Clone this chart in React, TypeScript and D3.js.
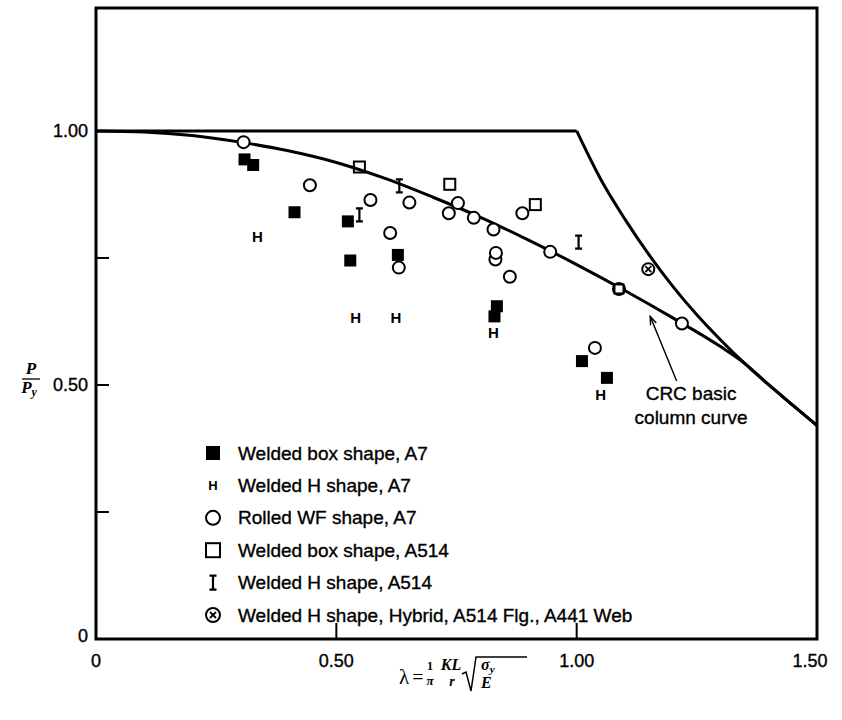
import * as d3 from "d3";

// test points, [lambda, P/Py]
const weldedBoxA7 = [
  [0.309, 0.944], [0.327, 0.933], [0.413, 0.84], [0.524, 0.822], [0.529, 0.745],
  [0.628, 0.756], [0.834, 0.655], [0.829, 0.635], [1.011, 0.547], [1.063, 0.514],
];
const weldedHA7 = [[0.336, 0.792], [0.54, 0.632], [0.624, 0.632], [0.827, 0.603], [1.05, 0.481]];
const rolledWFA7 = [
  [0.307, 0.978], [0.445, 0.893], [0.571, 0.864], [0.612, 0.799], [0.63, 0.731],
  [0.652, 0.859], [0.734, 0.838], [0.753, 0.858], [0.786, 0.829], [0.827, 0.806],
  [0.831, 0.747], [0.832, 0.76], [0.861, 0.713], [0.887, 0.838], [0.945, 0.762],
  [1.038, 0.573], [1.088, 0.689], [1.219, 0.621],
];
const weldedBoxA514 = [[0.548, 0.929], [0.736, 0.895], [0.914, 0.855], [1.088, 0.689]];
const weldedHA514 = [[0.548, 0.835], [0.631, 0.892], [1.004, 0.781]];
const hybrid = [[1.149, 0.728]];

// curves
const crcLambda = [0, 0.1, 0.2, 0.3, 0.4, 0.5, 0.6, 0.7, 0.8, 0.9, 1.0, 1.1, 1.2, 1.3, 1.35, 1.4, 1.45, 1.5];
const crcValue = [1.0, 0.998, 0.991, 0.978, 0.961, 0.938, 0.907, 0.87, 0.83, 0.785, 0.737, 0.686, 0.632, 0.575, 0.542, 0.5, 0.46, 0.42];
const plateauLambda = [0, 1.0];
const plateauValue = [1.0, 1.0];
const eulerLambda = [1.0, 1.05, 1.1, 1.15, 1.2, 1.25, 1.3, 1.35, 1.4, 1.45, 1.5];
const eulerValue = [1.0, 0.905, 0.827, 0.757, 0.694, 0.638, 0.588, 0.542, 0.5, 0.46, 0.42];

const xTicks = [0.5, 1.0];
const xTickLabels = [[0, "0"], [0.5, "0.50"], [1.0, "1.00"], [1.5, "1.50"]];
const yTicks = [0.25, 0.5, 0.75, 1.0];
const yTickLabels = [[0, "0"], [0.5, "0.50"], [1.0, "1.00"]];

const legendItems = [
  "Welded box shape, A7",
  "Welded H shape, A7",
  "Rolled WF shape, A7",
  "Welded box shape, A514",
  "Welded H shape, A514",
  "Welded H shape, Hybrid, A514 Flg., A441 Web",
];

const sans = "'Liberation Sans', Arial, sans-serif";
const serif = "'Liberation Serif', 'Times New Roman', serif";

const W = 842;
const H = 720;

const x = d3.scaleLinear().domain([0, 1.5]).range([96, 817]);
const y = d3.scaleLinear().domain([0, 1.242]).range([639, 8]);

const zip = (a: number[], b: number[]) => a.map((v, i) => [v, b[i]] as [number, number]);

const smooth = d3.line<[number, number]>()
  .x((d) => x(d[0]))
  .y((d) => y(d[1]))
  .curve(d3.curveMonotoneX);
const straight = d3.line<[number, number]>()
  .x((d) => x(d[0]))
  .y((d) => y(d[1]));

// scanned text looks heavier than the plain font
const heavy = { stroke: "#000", strokeWidth: 0.35 };

const FilledSquare = ({ cx, cy, s = 12 }) => (
  <rect x={cx - s / 2} y={cy - s / 2} width={s} height={s} fill="#000" />
);
const OpenSquare = ({ cx, cy, s = 11 }) => (
  <rect x={cx - s / 2} y={cy - s / 2} width={s} height={s} fill="none" stroke="#000" strokeWidth={2} />
);
const Circle = ({ cx, cy, r = 6 }) => (
  <circle cx={cx} cy={cy} r={r} fill="#fff" stroke="#000" strokeWidth={2} />
);
const HMark = ({ cx, cy, size = 15 }) => (
  <text x={cx} y={cy} textAnchor="middle" dominantBaseline="central" fontFamily={sans}
    fontWeight="bold" fontSize={size}>H</text>
);
const IMark = ({ cx, cy, h = 13 }) => (
  <path
    d={`M${cx},${cy - h / 2}V${cy + h / 2}M${cx - 3.5},${cy - h / 2}H${cx + 3.5}M${cx - 3.5},${cy + h / 2}H${cx + 3.5}`}
    stroke="#000" strokeWidth={2.2} fill="none" />
);
const Crossed = ({ cx, cy, r = 6 }) => (
  <g stroke="#000" strokeWidth={2}>
    <circle cx={cx} cy={cy} r={r} fill="#fff" />
    <path d={`M${cx - 3},${cy - 3}L${cx + 3},${cy + 3}M${cx - 3},${cy + 3}L${cx + 3},${cy - 3}`} strokeWidth={1.8} />
  </g>
);

export default function App() {
  const legendX = 213;
  const legendY0 = 453;
  const legendStep = 32.4;
  const legendMarks = [
    (cx, cy) => <FilledSquare cx={cx} cy={cy} s={14} />,
    (cx, cy) => <HMark cx={cx} cy={cy} size={13} />,
    (cx, cy) => <Circle cx={cx} cy={cy} r={7} />,
    (cx, cy) => <OpenSquare cx={cx} cy={cy} s={14} />,
    (cx, cy) => <IMark cx={cx} cy={cy} h={14} />,
    (cx, cy) => <Crossed cx={cx} cy={cy} r={7} />,
  ];

  // annotation arrow, in data units
  const tip = [1.153, 0.635];
  const tail = [1.208, 0.508];
  const ang = Math.atan2(y(tip[1]) - y(tail[1]), x(tip[0]) - x(tail[0]));
  const ah = 9;
  const tx = x(tip[0]);
  const ty = y(tip[1]);

  return (
    <svg width={W} height={H} style={{ position: "absolute", left: 0, top: 0, background: "#fff" }}>
      {/* curves */}
      <path d={straight(zip(plateauLambda, plateauValue)) || ""} fill="none" stroke="#000" strokeWidth={3} />
      <path d={smooth(zip(eulerLambda, eulerValue)) || ""} fill="none" stroke="#000" strokeWidth={3} />
      <path d={smooth(zip(crcLambda, crcValue)) || ""} fill="none" stroke="#000" strokeWidth={3} />

      {/* frame */}
      <rect x={x(0)} y={y(1.242)} width={x(1.5) - x(0)} height={y(0) - y(1.242)}
        fill="none" stroke="#000" strokeWidth={3} />

      {/* ticks */}
      {yTicks.map((t) => (
        <line key={"yt" + t} x1={x(0)} x2={x(0) + 13} y1={y(t)} y2={y(t)} stroke="#000" strokeWidth={2} />
      ))}
      {xTicks.map((t) => (
        <line key={"xt" + t} x1={x(t)} x2={x(t)} y1={y(0)} y2={y(0) - 16} stroke="#000" strokeWidth={2} />
      ))}
      {yTickLabels.map(([v, s]) => (
        <text key={"yl" + v} x={x(0) - 8} y={y(v as number) - (v === 0 ? 3 : 0)} textAnchor="end"
          dominantBaseline="central" fontFamily={sans} fontSize={18} {...heavy}>{s}</text>
      ))}
      {xTickLabels.map(([v, s]) => (
        <text key={"xl" + v} x={x(v as number) - (v === 1.5 ? 7 : 0)} y={y(0) + 28} textAnchor="middle"
          fontFamily={sans} fontSize={18} {...heavy}>{s}</text>
      ))}

      {/* points */}
      {weldedBoxA7.map((d, i) => <FilledSquare key={"fb" + i} cx={x(d[0])} cy={y(d[1])} />)}
      {rolledWFA7.map((d, i) => <Circle key={"c" + i} cx={x(d[0])} cy={y(d[1])} />)}
      {weldedBoxA514.map((d, i) => <OpenSquare key={"ob" + i} cx={x(d[0])} cy={y(d[1])} s={i === 3 ? 9 : 11} />)}
      {weldedHA7.map((d, i) => <HMark key={"h" + i} cx={x(d[0])} cy={y(d[1])} />)}
      {weldedHA514.map((d, i) => <IMark key={"i" + i} cx={x(d[0])} cy={y(d[1])} />)}
      {hybrid.map((d, i) => <Crossed key={"x" + i} cx={x(d[0])} cy={y(d[1])} />)}

      {/* annotation */}
      <line x1={x(tail[0])} y1={y(tail[1])} x2={tx} y2={ty} stroke="#000" strokeWidth={1.4} />
      <path
        d={`M${tx - ah * Math.cos(ang - 0.35)},${ty - ah * Math.sin(ang - 0.35)}L${tx},${ty}L${tx - ah * Math.cos(ang + 0.35)},${ty - ah * Math.sin(ang + 0.35)}`}
        fill="none" stroke="#000" strokeWidth={1.4} />
      <text x={x(1.238)} fontFamily={sans} fontSize={19} textAnchor="middle" {...heavy}>
        <tspan x={x(1.238)} y={y(0.5) + 15}>CRC basic</tspan>
        <tspan x={x(1.238)} y={y(0.5) + 39}>column curve</tspan>
      </text>

      {/* legend */}
      {legendItems.map((s, i) => (
        <g key={s}>
          {legendMarks[i](legendX, legendY0 + i * legendStep)}
          <text x={238} y={legendY0 + i * legendStep} dominantBaseline="central" fontFamily={sans}
            fontSize={19} {...heavy}>
            {s}
          </text>
        </g>
      ))}

      {/* y axis label */}
      <g fontFamily={serif} fontStyle="italic" fontWeight="bold" fontSize={17}>
        <text x={31} y={374} textAnchor="middle">P</text>
        <line x1={22} x2={40} y1={379} y2={379} stroke="#000" strokeWidth={1.3} />
        <text x={29} y={393} textAnchor="middle">P<tspan fontSize={12} dy={3}>y</tspan></text>
      </g>

      {/* x axis label */}
      <g fontFamily={serif}>
        <text x={404} y={684} fontSize={21} textAnchor="middle">λ</text>
        <text x={418} y={684} fontSize={20} textAnchor="middle">=</text>
        <text x={430} y={670} fontSize={12} fontWeight="bold" textAnchor="middle">1</text>
        <text x={430} y={685} fontSize={13} fontStyle="italic" fontWeight="bold" textAnchor="middle">π</text>
        <text x={451} y={670} fontSize={16} fontStyle="italic" fontWeight="bold" textAnchor="middle">KL</text>
        <text x={452} y={686} fontSize={14} fontStyle="italic" fontWeight="bold" textAnchor="middle">r</text>
        <path d="M462,674L466,672L471,691L476,657H527" fill="none" stroke="#000" strokeWidth={1.5} />
        <text x={481} y={670} fontSize={16} fontStyle="italic" fontWeight="bold">σ<tspan fontSize={11} dy={3}>y</tspan></text>
        <text x={481} y={688} fontSize={16} fontStyle="italic" fontWeight="bold">E</text>
      </g>
    </svg>
  );
}
